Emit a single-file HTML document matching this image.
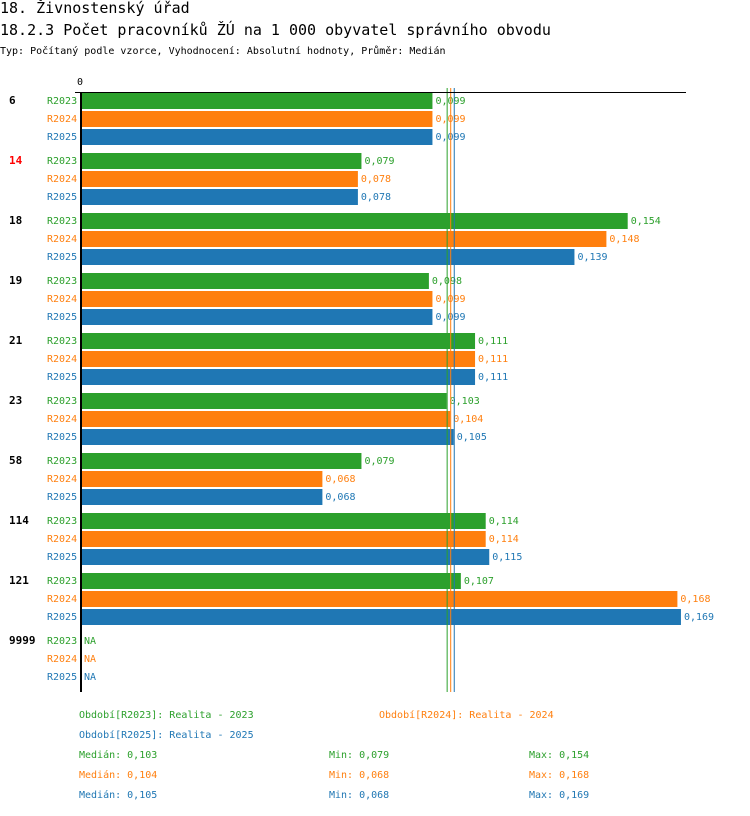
<!DOCTYPE html>
<html><head><meta charset="utf-8"><style>
body{margin:0;background:#fff;width:750px;height:812px;overflow:hidden;font-family:"DejaVu Sans Mono","Liberation Mono",monospace;}
svg text{font-family:"DejaVu Sans Mono","Liberation Mono",monospace;}
</style></head><body>
<svg id="c" width="750" height="812">
<text x="0" y="13" font-size="15">18. Živnostenský úřad</text>
<text x="0" y="35" font-size="15">18.2.3 Počet pracovníků ŽÚ na 1 000 obyvatel správního obvodu</text>
<text x="0" y="54" font-size="10">Typ: Počítaný podle vzorce, Vyhodnocení: Absolutní hodnoty, Průměr: Medián</text>
<text x="77" y="85" font-size="10">0</text>
<g id="bars"></g>
<line x1="75" y1="92.5" x2="686" y2="92.5" stroke="#000" stroke-width="1"/>
<line x1="81" y1="92" x2="81" y2="692" stroke="#000" stroke-width="2"/>
<g id="legend"></g>
</svg>
<script>
const groups=["6","14","18","19","21","23","58","114","121","9999"];
const series=["R2023","R2024","R2025"];
const v2023=[0.099,0.079,0.154,0.098,0.111,0.103,0.079,0.114,0.107,null];
const v2024=[0.099,0.078,0.148,0.099,0.111,0.104,0.068,0.114,0.168,null];
const v2025=[0.099,0.078,0.139,0.099,0.111,0.105,0.068,0.115,0.169,null];
const medians=[0.103,0.104,0.105];
const mins=[0.079,0.068,0.068];
const maxs=[0.154,0.168,0.169];
const colors=["#2ca02c","#ff7f0e","#1f77b4"];
const vals=[v2023,v2024,v2025];
const NS="http://www.w3.org/2000/svg";
const x0=81,scale=3550;
const X=v=>x0+v*scale;
const rowY=(g,s)=>93+g*60+s*18;
const fmt=v=>v.toFixed(3).replace('.',',');
function mk(tag,attrs,txt){const e=document.createElementNS(NS,tag);for(const k in attrs)e.setAttribute(k,attrs[k]);if(txt!=null)e.textContent=txt;return e;}
const bars=document.getElementById('bars');
groups.forEach((g,gi)=>{
  const t=mk('text',{x:9,y:rowY(gi,0)+11,'font-size':11,'font-weight':'bold',fill:g==="14"?"#f00":"#000"},g);
  
  
  bars.appendChild(t);
  series.forEach((s,si)=>{
    const y=rowY(gi,si);
    const l=mk('text',{x:47,y:y+11,'font-size':10,fill:colors[si]},s);
    
    
    bars.appendChild(l);
    const v=vals[si][gi];
    if(v==null){
      const n=mk('text',{x:84,y:y+11,'font-size':10,fill:colors[si]},'NA');
      
      
      bars.appendChild(n);return;
    }
    const r=mk('rect',{x:x0,y:y,width:X(v)-x0,height:16,fill:colors[si]});
    
    
    bars.appendChild(r);
    const vl=mk('text',{x:X(v)+3,y:y+11,'font-size':10,fill:colors[si]},fmt(v));
    
    
    bars.appendChild(vl);
  });
});
medians.forEach((m,i)=>{
  const ln=mk('line',{x1:X(m)+0.5,y1:88,x2:X(m)+0.5,y2:692,stroke:colors[i],'stroke-width':1});
  
  
  bars.appendChild(ln);
});
const lg=document.getElementById('legend');
const leg=[[79,718,"Období[R2023]: Realita - 2023",0],[379,718,"Období[R2024]: Realita - 2024",1],[79,738,"Období[R2025]: Realita - 2025",2]];
leg.forEach(a=>{const t=mk('text',{x:a[0],y:a[1],'font-size':10,fill:colors[a[3]]},a[2]);
  
  
  lg.appendChild(t);});
[0,1,2].forEach(i=>{
  const y=758+i*20;
  const a=mk('text',{x:79,y:y,'font-size':10,fill:colors[i]},'Medián: '+fmt(medians[i]));
  
  
  lg.appendChild(a);
  const b=mk('text',{x:329,y:y,'font-size':10,fill:colors[i]},'Min: '+fmt(mins[i]));
  
  
  lg.appendChild(b);
  const c=mk('text',{x:529,y:y,'font-size':10,fill:colors[i]},'Max: '+fmt(maxs[i]));
  
  
  lg.appendChild(c);
});
</script>
</body></html>
